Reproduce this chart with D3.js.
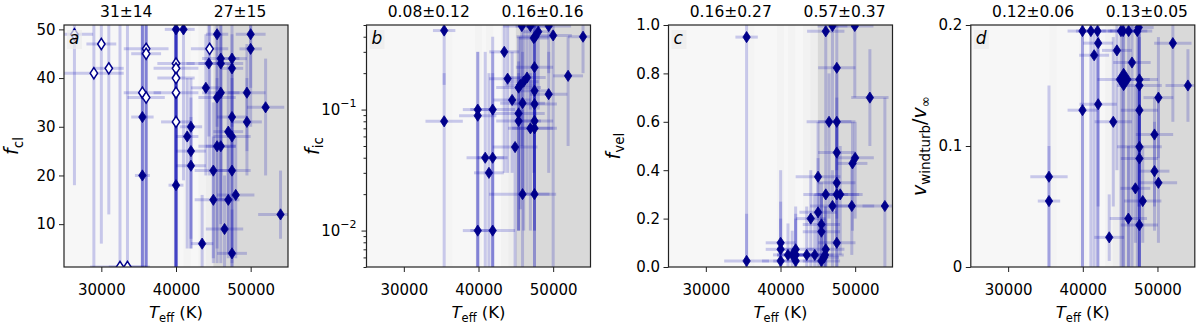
<!DOCTYPE html>
<html>
<head>
<meta charset="utf-8">
<script src="https://cdn.jsdelivr.net/npm/d3@7"></script>
<style>
  body { margin: 0; background: #fff; }
  text { font-family: "DejaVu Sans", sans-serif; fill: #000; }
</style>
</head>
<body>
<svg id="chart" width="1200" height="328"></svg>
<script>
// ---------- data ----------
const tempDomain = [25000, 55000];
const tempTicks = [30000, 40000, 50000];

// grey shading behind the points (Teff ranges)
const shadeLo = [45000, 39500, 41000, 43000, 44000, 35500];
const shadeHi = [55000, 40500, 42000, 45000, 45000, 36500];
const shadeAlpha = [0.12, 0.015, 0.015, 0.02, 0.02, 0.01];

// panel a : f_cl
const aTeff   = [40000,41000,45500,50000,50000,46000,47500,44400,46000,47500,44000,46000,45500,49500,52000,47500,35500,49500,42000,41500,47000,47500,42000,45500,46000,42000,45000,47500,35500,40000,45000,47000,48000,54000,46500,43500,47500];
const aFcl    = [50,50,49,49,46,44,44,43,43,42,38,37,36,37,34,32,32,31,30,28,29,28,25,26,26,22,21,21,20,18,15,15,16,12,9,6,4];
const aTeffErr= [1500,1500,1500,2000,1500,2500,2000,3000,3000,1500,2000,2500,2500,2500,2500,2000,1500,2000,1500,1500,2000,2500,2000,2500,2000,2000,2500,2500,1000,1000,2500,1500,2500,3000,2500,1500,2000];
const aFclLo  = [18,19,30,38,30,26,30,28,15,20,20,10,5,25,20,1,1,20,7,5,3,5,5,2,2,5,3,2,1,1,2,4,3,7,1,1,1];
const aFclHi  = [51,51,51,51,51,51,51,51,51,49,49,49,49,47,44,45,51,40,40,40,43,40,36,40,38,32,35,33,51,51,28,26,28,21,20,16,13];
// open symbols in panel a
const aOpenTeff   = [26400,30000,29000,31000,36000,36000,35500,36000,40000,40000,40000,40000,40000,44500,32500,33500];
const aOpenFcl    = [49,47,41,42,46,45,37,36,43,42,40,37,31,46,1.2,1.2];
const aOpenTeffErr= [2500,2000,4000,2000,3000,2000,2500,2500,2500,3000,2500,3000,2000,2500,4000,2500];
const aOpenLo     = [18,6,1,12,1,1,1,1,1,1,1,1,1,20,1,1];
const aOpenHi     = [51,51,51,51,51,51,51,51,51,51,51,51,51,51,51,51];
const aStats = ["31\u00b114", "27\u00b115"];

// panel b : f_ic
const bTeff   = [35400,35400,45800,46950,49400,48000,47600,47400,50000,54000,43450,47500,52000,43900,46500,46050,45600,45370,47500,49400,44500,45900,47500,39900,41900,45370,39900,45370,47500,46950,47500,44900,40900,41900,41400,45900,47500,39900,41900];
const bFic    = [0.45,0.08,0.49,0.49,0.49,0.44,0.40,0.39,0.41,0.40,0.30,0.224,0.19,0.18,0.184,0.17,0.16,0.152,0.143,0.134,0.12,0.113,0.111,0.10,0.10,0.093,0.089,0.0805,0.0805,0.07,0.07,0.049,0.04,0.04,0.03,0.02,0.02,0.01,0.01];
const bTeffErr= [1500,2500,2500,2000,3000,2000,2500,2000,2500,2000,2000,2500,2000,2500,2500,2000,2000,3000,2000,2500,2500,3000,3000,2000,3000,3500,2500,3000,2500,3000,3000,3000,2500,2000,2000,4500,2000,2000,3000];
const bFicLo  = [0.16,0.005,0.05,0.1,0.2,0.1,0.07,0.03,0.005,0.2,0.03,0.02,0.05,0.03,0.02,0.01,0.015,0.01,0.01,0.03,0.03,0.02,0.005,0.005,0.005,0.01,0.005,0.01,0.005,0.01,0.02,0.005,0.005,0.005,0.005,0.005,0.01,0.005,0.005];
const bFicHi  = [0.5,0.2,0.5,0.5,0.5,0.5,0.5,0.5,0.5,0.5,0.5,0.5,0.4,0.5,0.5,0.5,0.4,0.4,0.4,0.3,0.3,0.3,0.5,0.3,0.4,0.25,0.3,0.2,0.2,0.2,0.2,0.15,0.3,0.3,0.2,0.1,0.1,0.1,0.2];
const bStats = ["0.08\u00b10.12", "0.16\u00b10.16"];

// panel c : f_vel
const cTeff   = [35460,35460,46060,46960,49950,47540,51970,46500,47540,47540,50000,49640,45030,47540,46060,47540,48000,46960,49550,53980,45030,44050,45480,45480,47540,40020,40020,46060,42030,41000,42030,41570,43510,44590,45970,40020,42030,45480,45840];
const cFvel   = [0.95,0.025,0.974,0.996,0.996,0.823,0.70,0.60,0.60,0.473,0.451,0.428,0.373,0.348,0.30,0.30,0.30,0.252,0.252,0.252,0.226,0.20,0.176,0.146,0.10,0.10,0.073,0.073,0.073,0.05,0.05,0.05,0.05,0.05,0.05,0.025,0.025,0.025,0.04];
const cTeffErr= [1500,3000,2500,2000,2500,2500,2500,3000,2500,2500,2500,2000,3000,2500,3000,3000,3000,3000,3000,3000,2500,2000,2500,2500,2500,2000,2000,2500,2500,2000,2500,2000,2500,2500,2500,2500,3000,2500,2000];
const cFvelLo = [0,0,0.5,0.6,0.7,0.4,0.5,0.2,0.3,0.2,0.2,0.15,0.05,0.1,0,0,0.05,0,0.05,0,0,0,0,0,0,0,0,0,0,0,0,0,0,0,0,0,0,0,0];
const cFvelHi = [1,0.22,1,1,1,1,0.9,0.8,0.8,0.7,0.6,0.6,0.6,0.6,0.5,0.6,0.5,0.4,0.45,0.7,0.45,0.4,0.35,0.3,0.3,0.4,0.27,0.25,0.25,0.18,0.2,0.15,0.25,0.3,0.25,0.2,0.22,0.3,0.2];
const cStats = ["0.16\u00b10.27", "0.57\u00b10.37"];

// panel d : v_windturb / v_inf
const dTeff   = [39960,41080,41970,45110,46140,47490,52060,42060,44570,41520,46590,47580,47580,54080,50130,42060,39960,47580,44080,49600,47580,47580,49600,50130,35470,35470,47040,48030,46100,47580,43540,45400,47300];
const dVturb  = [0.195,0.195,0.195,0.195,0.195,0.198,0.185,0.185,0.179,0.175,0.169,0.155,0.150,0.150,0.140,0.1345,0.1296,0.1296,0.120,0.1095,0.0993,0.0897,0.0792,0.0696,0.0746,0.0545,0.065,0.0545,0.040,0.0347,0.0245,0.195,0.195];
const dTeffErr= [2000,2000,2000,2500,2500,2000,2500,2000,2000,2000,2500,2500,3000,3000,2000,2500,2000,2500,2500,2500,3000,2500,2000,2500,2500,1500,2000,2500,2500,2500,2000,2000,2000];
const dVturbLo= [0,0,0,0,0,0.05,0.12,0.05,0.08,0,0,0,0.03,0.12,0.09,0,0,0.05,0.05,0.05,0,0,0.03,0.02,0,0,0.02,0.02,0,0,0.005,0,0];
const dVturbHi= [0.2,0.2,0.2,0.2,0.2,0.2,0.2,0.2,0.2,0.2,0.2,0.2,0.19,0.18,0.19,0.18,0.2,0.2,0.19,0.14,0.15,0.15,0.12,0.14,0.15,0.1,0.15,0.1,0.1,0.15,0.06,0.2,0.2];
// one star drawn with a bigger symbol
const dBigTeff = [45470];
const dBigVturb = [0.155];
const dBigTeffErr = [3500];
const dBigLo = [0];
const dBigHi = [0.2];
const dStats = ["0.12\u00b10.06", "0.13\u00b10.05"];

// ---------- drawing ----------
const svg = d3.select("#chart");
const W = 224, H = 242, TOP = 25;
const lefts = [64, 366.5, 668.5, 970.8];
const navy = "#00008b";

function diamond(s) {
  const w = 3.7 * s, h = 5.6 * s;
  return `M0,${-h}L${w},0L0,${h}L${-w},0Z`;
}

function drawPanel(i, o) {
  const g = svg.append("g").attr("transform", `translate(${lefts[i]},${TOP})`);
  const x = d3.scaleLinear().domain(tempDomain).range([0, W]);
  const y = (o.log ? d3.scaleLog() : d3.scaleLinear()).domain(o.yDomain).range([H, 0]);

  svg.append("clipPath").attr("id", "clip" + i)
    .append("rect").attr("width", W).attr("height", H);
  const plot = g.append("g").attr("clip-path", `url(#clip${i})`);

  plot.append("rect").attr("width", W).attr("height", H).attr("fill", "#f7f7f7");
  plot.selectAll(".shade").data(d3.range(shadeLo.length)).enter().append("rect")
    .attr("x", k => x(shadeLo[k]))
    .attr("width", k => x(shadeHi[k]) - x(shadeLo[k]))
    .attr("y", 0).attr("height", H)
    .attr("fill", "#000").attr("opacity", k => shadeAlpha[k]);

  // error bars first, then symbols
  o.series.forEach(s => {
    const idx = d3.range(s.T.length);
    plot.append("g").selectAll("line").data(idx).enter().append("line")
      .attr("x1", k => x(s.T[k] - s.Te[k])).attr("x2", k => x(s.T[k] + s.Te[k]))
      .attr("y1", k => y(s.V[k])).attr("y2", k => y(s.V[k]))
      .attr("stroke", "#0000b4").attr("stroke-width", 3).attr("opacity", 0.19);
    plot.append("g").selectAll("line").data(idx).enter().append("line")
      .attr("x1", k => x(s.T[k])).attr("x2", k => x(s.T[k]))
      .attr("y1", k => y(s.Lo[k])).attr("y2", k => y(s.Hi[k]))
      .attr("stroke", "#0000b4").attr("stroke-width", 3).attr("opacity", 0.19);
  });
  o.series.forEach(s => {
    plot.append("g").selectAll("path").data(d3.range(s.T.length)).enter().append("path")
      .attr("d", diamond(s.big ? 2 : 1))
      .attr("transform", k => `translate(${x(s.T[k])},${y(s.V[k])})`)
      .attr("fill", s.open ? "#fff" : navy)
      .attr("stroke", navy).attr("stroke-width", s.open ? 1.5 : 0.8);
  });

  // panel letter
  plot.append("rect").attr("x", 3).attr("y", 5).attr("width", 15).attr("height", 19)
    .attr("fill", "#ebebeb").attr("opacity", 0.7);
  g.append("text").attr("x", 5).attr("y", 19).attr("font-size", 17)
    .attr("font-style", "italic").text(o.letter);

  g.append("rect").attr("width", W).attr("height", H)
    .attr("fill", "none").attr("stroke", "#222").attr("stroke-width", 1.2);

  // x axis
  const xa = g.append("g").attr("transform", `translate(0,${H})`)
    .call(d3.axisBottom(x).tickValues(tempTicks).tickSize(5).tickPadding(12).tickFormat(d3.format("d")));
  xa.attr("font-size", 15).attr("font-family", "DejaVu Sans");
  xa.select(".domain").remove();

  // y axis
  const ya = g.append("g").call(d3.axisLeft(y).tickValues(o.yTicks).tickSize(5).tickPadding(3.5)
    .tickFormat(o.log ? "" : o.yFormat));
  ya.attr("font-size", 15).attr("font-family", "DejaVu Sans");
  ya.select(".domain").remove();
  if (o.log) {
    ya.selectAll(".tick text").each(function(d) {
      const t = d3.select(this).text("");
      t.append("tspan").text("10");
      t.append("tspan").attr("font-size", 11).attr("dy", "-0.75em")
        .text("\u2212" + Math.round(-Math.log10(d)));
    });
    ya.selectAll(".tick text").attr("x", -10);
    const minor = g.append("g").call(d3.axisLeft(y).tickValues(o.minor).tickSize(3).tickFormat(""));
    minor.select(".domain").remove();
  }
  g.selectAll(".tick line").attr("stroke", "#222");

  // stats above the panel
  g.selectAll(".stat").data(o.stats).enter().append("text")
    .attr("x", (d, k) => W * [0.278, 0.786][k]).attr("y", -8)
    .attr("text-anchor", "middle").attr("font-size", 15.5).text(d => d);

  // x label
  const xl = g.append("text").attr("x", W / 2).attr("y", H + 51)
    .attr("text-anchor", "middle").attr("font-size", 16.5);
  xl.append("tspan").attr("font-style", "italic").text("T");
  xl.append("tspan").attr("font-size", 11.5).attr("dy", 4).text("eff");
  xl.append("tspan").attr("dy", -4).text(" (K)");

  // y label
  const yl = g.append("text").attr("transform", `translate(${-o.labelOff},${H / 2}) rotate(-90)`)
    .attr("text-anchor", "middle").attr("font-size", 19);
  o.ylabel.forEach(p => {
    const t = yl.append("tspan").text(p.t);
    if (p.it) t.attr("font-style", "italic");
    if (p.sub) t.attr("font-size", 13.5).attr("dy", 4.5);
    if (p.up) t.attr("dy", -4.5);
  });
}

drawPanel(0, {
  yDomain: [1.2, 50.9], yTicks: [10, 20, 30, 40, 50], yFormat: d3.format("d"),
  stats: aStats, letter: "a", labelOff: 46,
  ylabel: [{t: "f", it: true}, {t: "cl", sub: true}],
  series: [
    {T: aTeff, V: aFcl, Te: aTeffErr, Lo: aFclLo, Hi: aFclHi},
    {T: aOpenTeff, V: aOpenFcl, Te: aOpenTeffErr, Lo: aOpenLo, Hi: aOpenHi, open: true}
  ]
});
drawPanel(1, {
  log: true, yDomain: [0.005, 0.5], yTicks: [0.01, 0.1],
  minor: [0.005,0.006,0.007,0.008,0.009,0.02,0.03,0.04,0.05,0.06,0.07,0.08,0.09,0.2,0.3,0.4,0.5],
  stats: bStats, letter: "b", labelOff: 48,
  ylabel: [{t: "f", it: true}, {t: "ic", sub: true}],
  series: [{T: bTeff, V: bFic, Te: bTeffErr, Lo: bFicLo, Hi: bFicHi}]
});
drawPanel(2, {
  yDomain: [0, 1], yTicks: [0, 0.2, 0.4, 0.6, 0.8, 1.0], yFormat: d3.format(".1f"),
  stats: cStats, letter: "c", labelOff: 49,
  ylabel: [{t: "f", it: true}, {t: "vel", sub: true}],
  series: [{T: cTeff, V: cFvel, Te: cTeffErr, Lo: cFvelLo, Hi: cFvelHi}]
});
drawPanel(3, {
  yDomain: [0, 0.2], yTicks: [0, 0.1, 0.2], yFormat: d => d === 0 ? "0" : d3.format(".1f")(d),
  stats: dStats, letter: "d", labelOff: 45,
  ylabel: [{t: "v", it: true}, {t: "windturb", sub: true}, {t: "/", up: true},
           {t: "v", it: true}, {t: "\u221e", sub: true}],
  series: [
    {T: dTeff, V: dVturb, Te: dTeffErr, Lo: dVturbLo, Hi: dVturbHi},
    {T: dBigTeff, V: dBigVturb, Te: dBigTeffErr, Lo: dBigLo, Hi: dBigHi, big: true}
  ]
});
</script>
</body>
</html>
